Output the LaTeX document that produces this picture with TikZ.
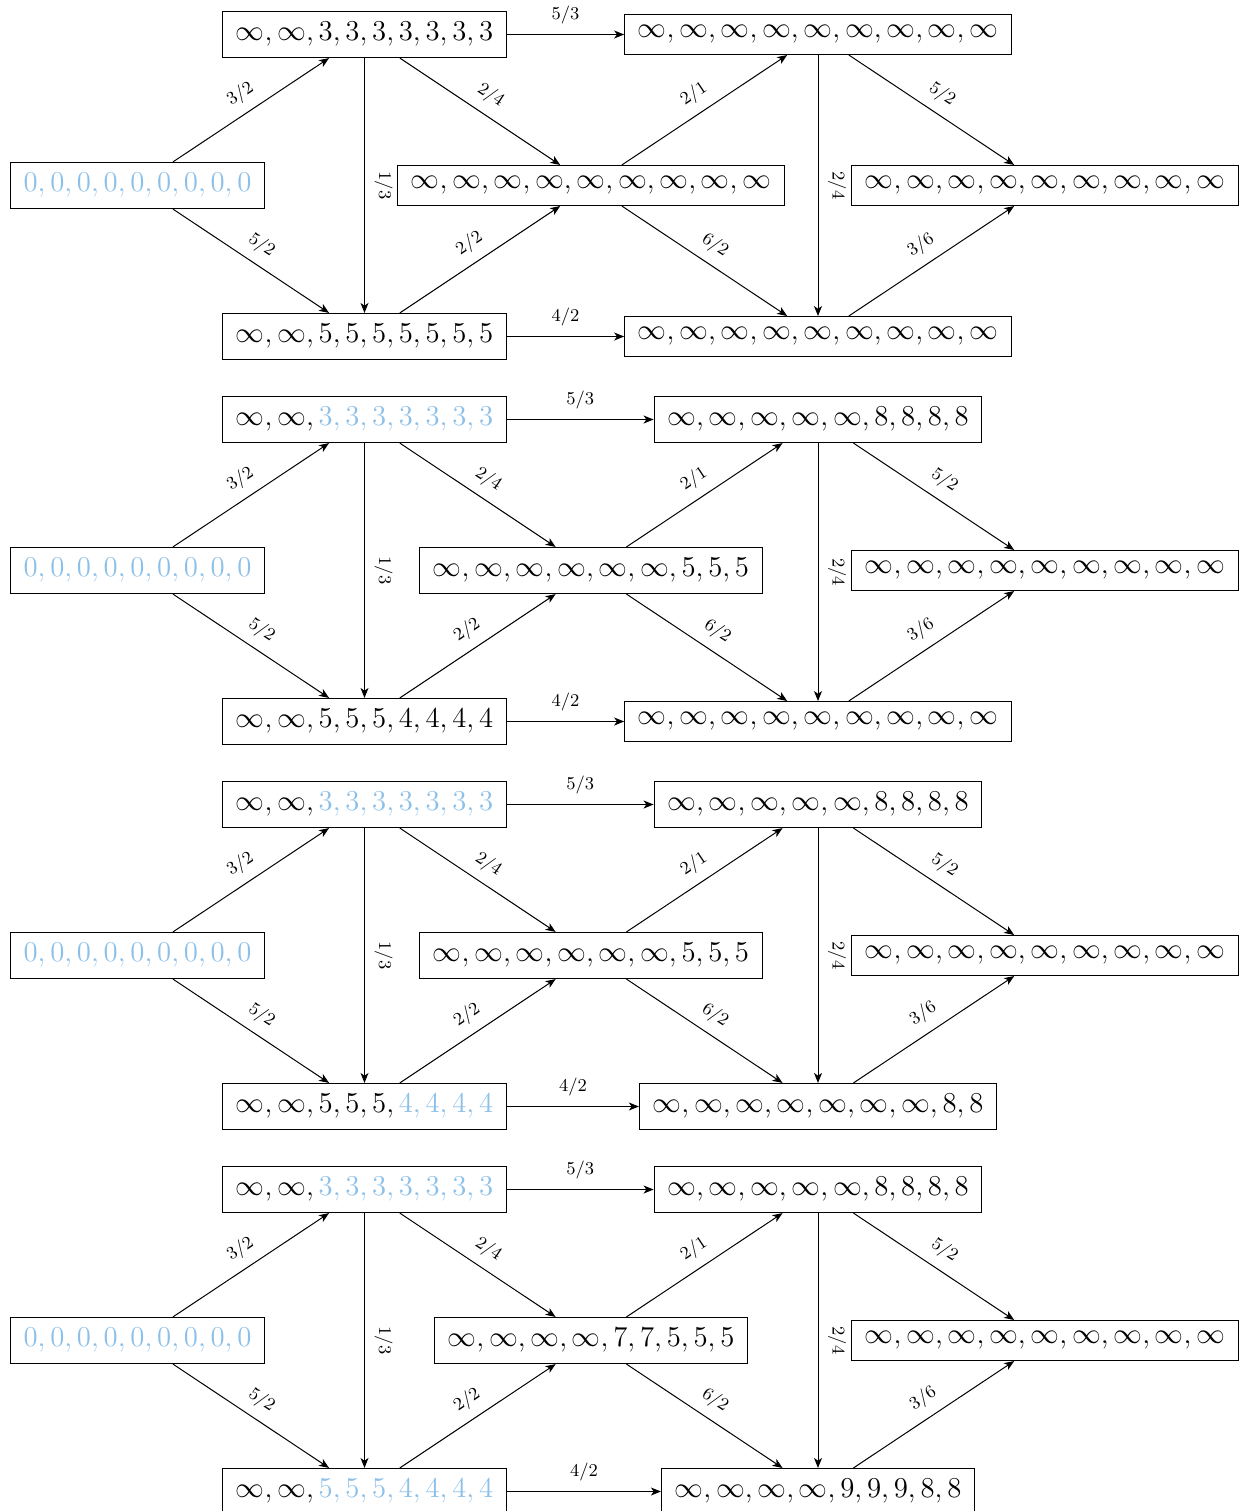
\documentclass[tikz,border=0pt]{standalone}
\usetikzlibrary{arrows.meta}
\definecolor{lb}{RGB}{140,192,232}
\tikzset{
  box/.style={draw, line width=0.5pt, font=\Large, inner xsep=6.6pt, inner ysep=5.5pt},
  arr/.style={line width=0.5pt, -{Stealth[length=5pt,width=4pt,inset=1.4pt]}},
  lab/.style={font=\small, sloped, above, inner sep=4.8pt}
}
\newcommand\mypanel[9]{%
  \node[box] (#1a) at (137.5,{185.5+#2}) {#3};
  \node[box] (#1b) at (364.5,{34.5+#2}) {#4};
  \node[box] (#1c) at (364.5,{336.5+#2}) {#5};
  \node[box] (#1d) at (591,{185.5+#2}) {#6};
  \node[box] (#1e) at (818,{34.5+#2}) {#7};
  \node[box] (#1f) at (1045,{185.5+#2}) {#8};
  \node[box] (#1g) at (818,{336.5+#2}) {#9};
  \draw[arr] (#1a) -- node[lab]{$3/2$} (#1b);
  \draw[arr] (#1a) -- node[lab]{$5/2$} (#1c);
  \draw[arr] (#1b) -- node[lab]{$1/3$} (#1c);
  \draw[arr] (#1b) -- node[lab]{$2/4$} (#1d);
  \draw[arr] (#1c) -- node[lab]{$2/2$} (#1d);
  \draw[arr] (#1b) -- node[lab]{$5/3$} (#1e);
  \draw[arr] (#1c) -- node[lab]{$4/2$} (#1g);
  \draw[arr] (#1d) -- node[lab]{$2/1$} (#1e);
  \draw[arr] (#1d) -- node[lab]{$6/2$} (#1g);
  \draw[arr] (#1e) -- node[lab]{$2/4$} (#1g);
  \draw[arr] (#1e) -- node[lab]{$5/2$} (#1f);
  \draw[arr] (#1g) -- node[lab]{$3/6$} (#1f);
}
\begin{document}
\begin{tikzpicture}[x=0.5pt, y=-0.5pt]
\useasboundingbox (0,0) rectangle (1247,1511);
\mypanel{p}{0}
  {$\color{lb}0,0,0,0,0,0,0,0,0$}
  {$\infty,\infty,3,3,3,3,3,3,3$}
  {$\infty,\infty,5,5,5,5,5,5,5$}
  {$\infty,\infty,\infty,\infty,\infty,\infty,\infty,\infty,\infty$}
  {$\infty,\infty,\infty,\infty,\infty,\infty,\infty,\infty,\infty$}
  {$\infty,\infty,\infty,\infty,\infty,\infty,\infty,\infty,\infty$}
  {$\infty,\infty,\infty,\infty,\infty,\infty,\infty,\infty,\infty$}
\mypanel{q}{385}
  {$\color{lb}0,0,0,0,0,0,0,0,0$}
  {$\infty,\infty,\color{lb}3,3,3,3,3,3,3$}
  {$\infty,\infty,5,5,5,4,4,4,4$}
  {$\infty,\infty,\infty,\infty,\infty,\infty,5,5,5$}
  {$\infty,\infty,\infty,\infty,\infty,8,8,8,8$}
  {$\infty,\infty,\infty,\infty,\infty,\infty,\infty,\infty,\infty$}
  {$\infty,\infty,\infty,\infty,\infty,\infty,\infty,\infty,\infty$}
\mypanel{r}{770}
  {$\color{lb}0,0,0,0,0,0,0,0,0$}
  {$\infty,\infty,\color{lb}3,3,3,3,3,3,3$}
  {$\infty,\infty,5,5,5,\color{lb}4,4,4,4$}
  {$\infty,\infty,\infty,\infty,\infty,\infty,5,5,5$}
  {$\infty,\infty,\infty,\infty,\infty,8,8,8,8$}
  {$\infty,\infty,\infty,\infty,\infty,\infty,\infty,\infty,\infty$}
  {$\infty,\infty,\infty,\infty,\infty,\infty,\infty,8,8$}
\mypanel{s}{1155}
  {$\color{lb}0,0,0,0,0,0,0,0,0$}
  {$\infty,\infty,\color{lb}3,3,3,3,3,3,3$}
  {$\infty,\infty,\color{lb}5,5,5,4,4,4,4$}
  {$\infty,\infty,\infty,\infty,7,7,5,5,5$}
  {$\infty,\infty,\infty,\infty,\infty,8,8,8,8$}
  {$\infty,\infty,\infty,\infty,\infty,\infty,\infty,\infty,\infty$}
  {$\infty,\infty,\infty,\infty,9,9,9,8,8$}
\end{tikzpicture}
\end{document}
